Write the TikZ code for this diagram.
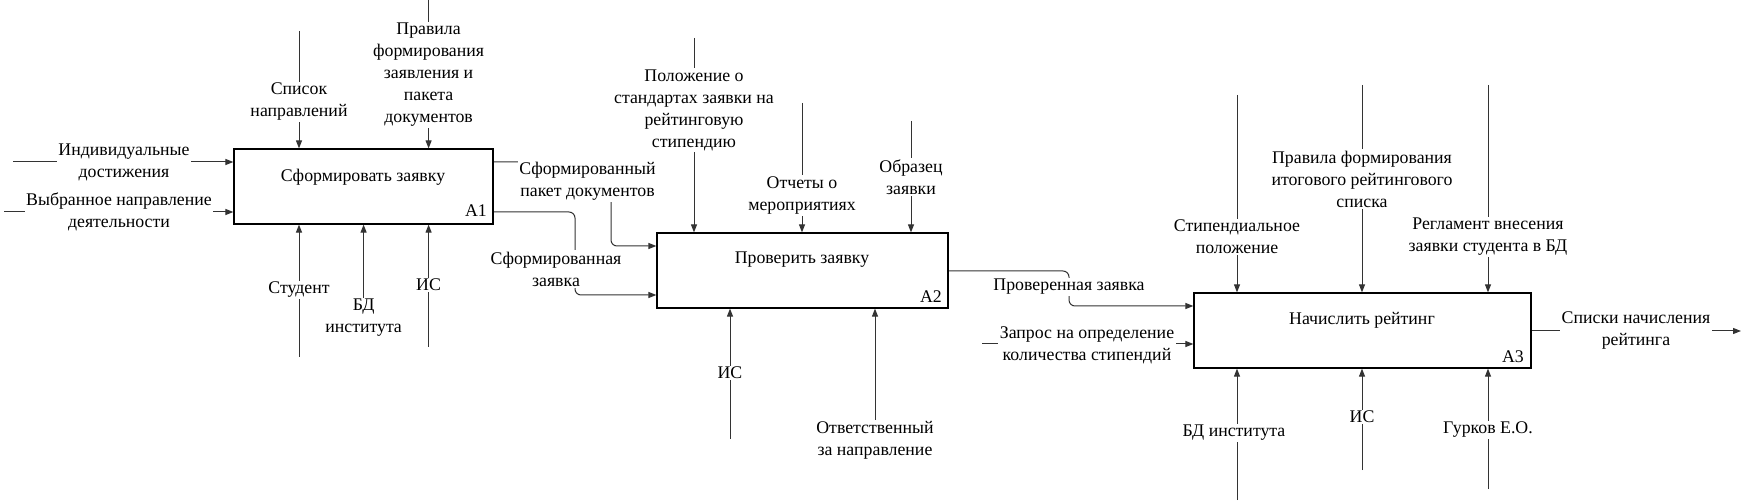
\documentclass[tikz,border=0pt]{standalone}
\usepackage{fontspec}
\setmainfont{Liberation Serif}
\usetikzlibrary{arrows.meta,calc}
\pgfdeclarelayer{bg}
\pgfsetlayers{bg,main}
\begin{document}
\begin{tikzpicture}[x=1pt,y=-1pt,
  box/.style={draw=black,line width=1.2pt,inner sep=0pt},
  ttl/.style={inner sep=0pt,font=\fontsize{17.8}{22}\selectfont},
  lbl/.style={fill=white,inner sep=1.5pt,align=center,font=\fontsize{17.8}{22}\selectfont},
  arr/.style={draw=black!80,line width=1pt,-{Triangle[length=8pt,width=6pt]}},
  elbow/.style={arr,rounded corners=6pt}]
\useasboundingbox (0,0) rectangle (1746,502);

% boxes
\node[box,minimum width=259pt,minimum height=75pt] (A1) at (363.5,186.5) {};
\node[box,minimum width=291pt,minimum height=75pt] (A2) at (802.5,270.5) {};
\node[box,minimum width=337pt,minimum height=75pt] (A3) at (1362.5,330.5) {};
\node[ttl] (t1) at (363,177) {Сформировать заявку};
\node[ttl] (n1) at (476,211) {A1};
\node[ttl] (t2) at (802,260) {Проверить заявку};
\node[ttl] (n2) at (931,297) {A2};
\node[ttl] (t3) at (1362,320) {Начислить рейтинг};
\node[ttl] (n3) at (1513,357) {A3};

% labels
\node[lbl] (l1) at (124,162) {Индивидуальные\\достижения};
\node[lbl] (l2) at (119,212) {Выбранное направление\\деятельности};
\node[lbl] (l3) at (299,102) {Список\\направлений};
\node[lbl] (l4) at (428.6,75) {Правила\\формирования\\заявления и\\пакета\\документов};
\node[lbl] (l5) at (299,290) {Студент};
\node[lbl] (l6) at (363.6,318) {БД\\института};
\node[lbl] (l7) at (428.6,285) {ИС};
\node[lbl] (l8) at (587.5,181) {Сформированный\\пакет документов};
\node[lbl] (l9) at (556,269) {Сформированная\\заявка};
\node[lbl] (l10) at (694,110) {Положение о\\стандартах заявки на\\рейтинговую\\стипендию};
\node[lbl] (l11) at (802,195.5) {Отчеты о\\мероприятиях};
\node[lbl] (l12) at (911,177) {Образец\\заявки};
\node[lbl] (l13) at (730,373) {ИС};
\node[lbl] (l14) at (875,440.5) {Ответственный\\за направление};
\node[lbl] (l15) at (1069,287) {Проверенная заявка};
\node[lbl] (l16) at (1087,345) {Запрос на определение\\количества стипендий};
\node[lbl] (l17) at (1237,237) {Стипендиальное\\положение};
\node[lbl] (l18) at (1362,179) {Правила формирования\\итогового рейтингового\\списка};
\node[lbl] (l19) at (1488,237) {Регламент внесения\\заявки студента в БД};
\node[lbl] (l20) at (1234,433) {БД института};
\node[lbl] (l21) at (1362,417) {ИС};
\node[lbl] (l22) at (1488,430) {Гурков Е.О.};
\node[lbl] (l23) at (1636,331) {Списки начисления\\рейтинга};

% free ends and bends
\coordinate (i1) at (13,162);
\coordinate (i2) at (4,212);
\coordinate (c1) at (299,31);
\coordinate (c2) at (428.6,0);
\coordinate (m1) at (299,357);
\coordinate (m3) at (428.6,347);
\coordinate (b1) at (611,162);
\coordinate (b1d) at (611,246);
\coordinate (b2) at (575,212);
\coordinate (b2d) at (575,295);
\coordinate (c4) at (694,38);
\coordinate (c5) at (802,103);
\coordinate (c6) at (911,121);
\coordinate (m4) at (730,439);
\coordinate (b3) at (1069,271);
\coordinate (b3d) at (1069,306);
\coordinate (i3) at (982,344);
\coordinate (c7) at (1237,95);
\coordinate (c8) at (1362,85);
\coordinate (c9) at (1488,85);
\coordinate (m6) at (1237,500);
\coordinate (m7) at (1362,470);
\coordinate (m8) at (1488,489);
\coordinate (o3) at (1741,331);

\begin{pgfonlayer}{bg}
\draw[arr] (i1) -- (i1 -| A1.west);
\draw[arr] (i2) -- (i2 -| A1.west);
\draw[arr] (c1) -- (c1 |- A1.north);
\draw[arr] (c2) -- (c2 |- A1.north);
\draw[arr] (m1) -- (m1 |- A1.south);
\draw[arr] (l6) -- (l6 |- A1.south);
\draw[arr] (m3) -- (m3 |- A1.south);
\draw[elbow] (b1 -| A1.east) -- (b1) -- (b1d) -- (b1d -| A2.west);
\draw[elbow] (b2 -| A1.east) -- (b2) -- (b2d) -- (b2d -| A2.west);
\draw[arr] (c4) -- (c4 |- A2.north);
\draw[arr] (c5) -- (c5 |- A2.north);
\draw[arr] (c6) -- (c6 |- A2.north);
\draw[arr] (m4) -- (m4 |- A2.south);
\draw[arr] (l14) -- (l14 |- A2.south);
\draw[elbow] (b3 -| A2.east) -- (b3) -- (b3d) -- (b3d -| A3.west);
\draw[arr] (i3) -- (i3 -| A3.west);
\draw[arr] (c7) -- (c7 |- A3.north);
\draw[arr] (c8) -- (c8 |- A3.north);
\draw[arr] (c9) -- (c9 |- A3.north);
\draw[arr] (m6) -- (m6 |- A3.south);
\draw[arr] (m7) -- (m7 |- A3.south);
\draw[arr] (m8) -- (m8 |- A3.south);
\draw[arr] (o3 -| A3.east) -- (o3);
\end{pgfonlayer}
\end{tikzpicture}
\end{document}
